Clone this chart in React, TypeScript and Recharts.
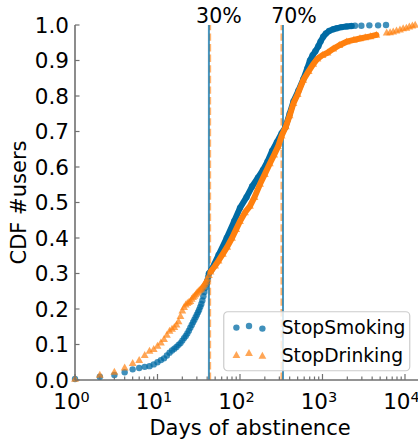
import React from 'react';
import { ComposedChart, Scatter, XAxis, YAxis, ReferenceLine, Legend } from 'recharts';

const FONT = '"DejaVu Sans", "Liberation Sans", sans-serif';
const BLUE = '#006BA4';
const ORANGE = '#FF800E';
const AXIS = '#707070';

const seriesNames = ['StopSmoking', 'StopDrinking'];

const smokingDays = [
  1, 2, 3, 4, 5, 6, 7, 8, 9, 10, 11, 12, 13, 14, 15, 16, 17, 18, 19, 20, 21, 22, 23, 24, 25, 26, 27, 28, 29, 30,
  31, 32, 33, 34, 35, 36, 37, 38, 39, 40, 41, 42,
  45, 55, 69, 85, 100, 120, 140, 165, 190, 215, 245, 280, 320, 355, 400, 445, 510, 585, 650, 705, 760, 820, 890,
  950, 1020, 1100, 1200, 1350, 1500, 1700, 1960, 2250,
  2480, 2960, 3700, 4720, 5890,
];
const smokingCdf = [
  0.003, 0.009, 0.014, 0.022, 0.03, 0.034, 0.037, 0.039, 0.044, 0.05, 0.056, 0.061, 0.069, 0.077, 0.083, 0.088,
  0.093, 0.099, 0.104, 0.111, 0.118, 0.124, 0.131, 0.139, 0.147, 0.155, 0.163, 0.17, 0.177, 0.184, 0.191, 0.198,
  0.206, 0.214, 0.224, 0.236, 0.248, 0.26, 0.27, 0.28, 0.29, 0.3,
  0.31, 0.352, 0.4, 0.447, 0.485, 0.515, 0.545, 0.57, 0.592, 0.615, 0.645, 0.67, 0.695, 0.712, 0.75, 0.785, 0.815,
  0.847, 0.876, 0.9, 0.915, 0.926, 0.94, 0.954, 0.967, 0.976, 0.983, 0.988, 0.991, 0.994, 0.996, 0.997,
  0.998, 0.998, 0.999, 0.999, 1.0,
];

const drinkingDays = [
  1, 2, 3, 4, 5, 6, 7, 8, 9, 10, 11, 12, 13, 14, 15, 16, 17, 18, 19, 20, 21, 22, 23, 24, 25, 26, 27, 28, 29, 30,
  31, 32, 33, 34, 35, 36, 37, 38, 39, 40, 42, 44,
  50, 55, 62, 70, 80, 90, 100, 115, 132, 150, 175, 200, 230, 260, 290, 320, 360, 400, 445, 500, 585, 680, 773,
  870, 1000, 1150, 1350, 1600, 1965, 2400, 2850, 3300, 3800, 4500,
  6000, 6600, 7200, 7900, 8700, 9500, 10400, 11300, 12300, 13300,
];
const drinkingCdf = [
  0.003, 0.014, 0.023, 0.035, 0.047, 0.056, 0.07, 0.082, 0.087, 0.096, 0.105, 0.115, 0.127, 0.138, 0.144, 0.149,
  0.156, 0.165, 0.18, 0.195, 0.205, 0.212, 0.216, 0.219, 0.222, 0.228, 0.233, 0.237, 0.241, 0.245, 0.249, 0.252,
  0.255, 0.258, 0.262, 0.266, 0.27, 0.274, 0.279, 0.285, 0.295, 0.305,
  0.322, 0.336, 0.355, 0.375, 0.4, 0.425, 0.447, 0.472, 0.49, 0.515, 0.552, 0.58, 0.61, 0.635, 0.658, 0.688,
  0.714, 0.745, 0.78, 0.805, 0.845, 0.87, 0.89, 0.905, 0.915, 0.922, 0.933, 0.943, 0.953, 0.958, 0.962, 0.965,
  0.968, 0.972,
  0.978, 0.979, 0.981, 0.984, 0.987, 0.99, 0.992, 0.995, 0.998, 1.0,
];

// range of days where the markers overlap into a continuous band
const smokingBandDays = [42, 2250];
const drinkingBandDays = [44, 4500];

// percentile lines (days)
const smoking30 = 42;
const drinking30 = 43.5;
const smoking70 = 332;
const drinking70 = 318;
const percentileLabels = ['30%', '70%'];

const xTicks = [
  1, 2, 3, 4, 5, 6, 7, 8, 9,
  10, 20, 30, 40, 50, 60, 70, 80, 90,
  100, 200, 300, 400, 500, 600, 700, 800, 900,
  1000, 2000, 3000, 4000, 5000, 6000, 7000, 8000, 9000,
  10000,
];
const yTicks = [0, 0.1, 0.2, 0.3, 0.4, 0.5, 0.6, 0.7, 0.8, 0.9, 1.0];
const xDomain = [1, 14380];

const toPoints = (days: number[], cdf: number[]) => days.map((d, i) => ({ x: d, y: cdf[i] }));
const smokingData = toPoints(smokingDays, smokingCdf);
const drinkingData = toPoints(drinkingDays, drinkingCdf);
const smokingBand = smokingData.filter((p) => p.x >= smokingBandDays[0] && p.x <= smokingBandDays[1]);
const drinkingBand = drinkingData.filter((p) => p.x >= drinkingBandDays[0] && p.x <= drinkingBandDays[1]);

const Circle = (p: any) => (
  <circle cx={p.cx} cy={p.cy} r={3.2} fill={BLUE} fillOpacity={0.75} />
);
const Triangle = (p: any) => {
  const { cx, cy } = p;
  return (
    <polygon
      points={`${cx},${cy - 4.2} ${cx - 3.9},${cy + 2.8} ${cx + 3.9},${cy + 2.8}`}
      fill={ORANGE}
      fillOpacity={0.7}
    />
  );
};
const Empty = () => <g />;

const XTick = (p: any) => {
  const v = p.payload.value;
  const lg = Math.log10(v);
  const exp = Math.round(lg);
  const major = Math.abs(lg - exp) < 1e-6;
  return (
    <g>
      <line x1={p.x} x2={p.x} y1={p.y} y2={p.y - (major ? 6 : 3.5)} stroke={AXIS} strokeWidth={1.2} />
      {major && (
        <text x={p.x - 3.5} y={p.y + 29.3} textAnchor="middle" fontSize={21.5} fill="#000" fontFamily={FONT}>
          <tspan>10</tspan>
          <tspan dy={-7.6} fontSize={14.5}>{exp}</tspan>
        </text>
      )}
    </g>
  );
};

const YTick = (p: any) => (
  <g>
    <line x1={p.x} x2={p.x + 4.5} y1={p.y} y2={p.y} stroke={AXIS} strokeWidth={1.2} />
    <text x={p.x - 6} y={p.y + 7.7} textAnchor="end" fontSize={21.5} fill="#000" fontFamily={FONT}>
      {Number(p.payload.value).toFixed(1)}
    </text>
  </g>
);

const XLabel = (p: any) => {
  const vb = p.viewBox;
  return (
    <text x={vb.x + vb.width / 2 + 3.5} y={vb.y + 54.5} textAnchor="middle" fontSize={21} fill="#000" fontFamily={FONT}>
      Days of abstinence
    </text>
  );
};

const YLabel = (p: any) => {
  const vb = p.viewBox;
  const cx = vb.x + 26;
  const cy = vb.y + vb.height / 2;
  return (
    <text
      x={cx}
      y={cy}
      transform={`rotate(-90, ${cx}, ${cy})`}
      textAnchor="middle"
      fontSize={21}
      fill="#000"
      fontFamily={FONT}
    >
      CDF #users
    </text>
  );
};

const pctLabel = (text: string, dx: number) => (p: any) => {
  const vb = p.viewBox;
  return (
    <text x={vb.x + dx} y={vb.y - 2.3} textAnchor="middle" fontSize={20.5} fill="#000" fontFamily={FONT}>
      {text}
    </text>
  );
};

const LegendBox = () => {
  const xs = [13.4, 26, 39.4];
  const dotYs = [16.6, 15, 17.6];
  const triYs = [44.3, 42.3, 45];
  return (
    <svg width={188} height={61} style={{ display: 'block', fontFamily: FONT }}>
      <rect x={0.75} y={0.75} width={186} height={59} rx={4} fill="#fff" fillOpacity={0.8} stroke="#cccccc" strokeWidth={1.2} />
      {xs.map((x, i) => (
        <Circle key={'c' + i} cx={x} cy={dotYs[i]} />
      ))}
      {xs.map((x, i) => (
        <Triangle key={'t' + i} cx={x} cy={triYs[i]} />
      ))}
      <text x={58.7} y={22.8} fontSize={18.7} fill="#000">{seriesNames[0]}</text>
      <text x={58.7} y={50.5} fontSize={18.7} fill="#000">{seriesNames[1]}</text>
    </svg>
  );
};

export default function App() {
  return (
    <div style={{ position: 'absolute', left: 0, top: 0, width: 418, height: 440, background: '#fff' }}>
      <ComposedChart
        width={418}
        height={440}
        margin={{ top: 25, right: 0, bottom: 0, left: 0 }}
        style={{ fontFamily: FONT }}
      >
        <XAxis
          dataKey="x"
          type="number"
          scale="log"
          domain={xDomain}
          ticks={xTicks}
          interval={0}
          tick={XTick}
          tickLine={false}
          tickSize={0}
          tickMargin={0}
          axisLine={{ stroke: AXIS, strokeWidth: 1.6 }}
          height={60}
          label={XLabel}
        />
        <YAxis
          dataKey="y"
          type="number"
          domain={[0, 1]}
          ticks={yTicks}
          interval={0}
          tick={YTick}
          tickLine={false}
          tickSize={0}
          tickMargin={0}
          axisLine={{ stroke: AXIS, strokeWidth: 1.6 }}
          width={75}
          label={YLabel}
        />
        <Scatter
          name={seriesNames[0] + ' band'}
          data={smokingBand}
          fill={BLUE}
          line={{ stroke: BLUE, strokeWidth: 6, strokeLinecap: 'round', strokeLinejoin: 'round' }}
          shape={Empty}
          legendType="none"
          isAnimationActive={false}
        />
        <Scatter
          name={seriesNames[0]}
          data={smokingData}
          fill={BLUE}
          shape={Circle}
          isAnimationActive={false}
        />
        <Scatter
          name={seriesNames[1] + ' band'}
          data={drinkingBand}
          fill={ORANGE}
          line={{ stroke: ORANGE, strokeWidth: 6, strokeLinecap: 'round', strokeLinejoin: 'round' }}
          shape={Empty}
          legendType="none"
          isAnimationActive={false}
        />
        <Scatter
          name={seriesNames[1]}
          data={drinkingData}
          fill={ORANGE}
          shape={Triangle}
          isAnimationActive={false}
        />
        <ReferenceLine x={drinking30} stroke={ORANGE} strokeOpacity={0.6} strokeWidth={2} strokeDasharray="7.4 3.2" />
        <ReferenceLine x={smoking30} stroke={BLUE} strokeOpacity={0.72} strokeWidth={2} label={pctLabel(percentileLabels[0], 10)} />
        <ReferenceLine x={drinking70} stroke={ORANGE} strokeOpacity={0.6} strokeWidth={2} strokeDasharray="7.4 3.2" />
        <ReferenceLine x={smoking70} stroke={BLUE} strokeOpacity={0.72} strokeWidth={2} label={pctLabel(percentileLabels[1], 11)} />
        <Legend
          layout="vertical"
          align="center"
          verticalAlign="middle"
          content={<LegendBox />}
          wrapperStyle={{ left: 223, top: 311, width: 188, height: 61 }}
        />
      </ComposedChart>
    </div>
  );
}
